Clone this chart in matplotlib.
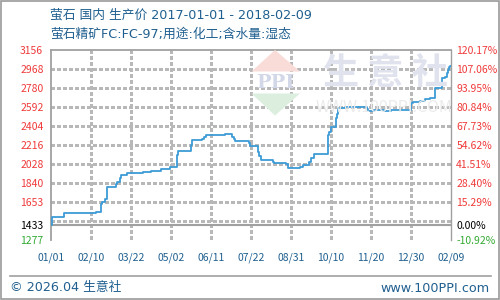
import matplotlib
matplotlib.use("Agg")
import matplotlib.pyplot as plt
from matplotlib.patches import Polygon, Rectangle
from matplotlib.lines import Line2D
from matplotlib.collections import LineCollection

plt.rcParams['font.family'] = ['Noto Sans CJK SC', 'DejaVu Sans']
LATIN_FIRST = ['DejaVu Sans', 'Noto Sans CJK SC']

# ---- data ----
title_line1 = "萤石 国内 生产价 2017-01-01 - 2018-02-09"
title_line2 = "萤石精矿FC:FC-97;用途:化工;含水量:湿态"
footer_left = "© 2026.04 生意社"
footer_right = "www.100PPI.com"

# day offsets from 2017-01-01 and price (step series)
days = [0, 1, 13, 46, 51, 52, 55, 57, 66, 67, 70, 71, 77, 93, 101, 111, 120, 128, 129, 142,
        143, 153, 155, 157, 176, 178, 183, 185, 186, 200, 201, 209, 210, 212, 225, 226, 238, 240, 252, 255,
        261, 263, 266, 280, 281, 283, 288, 289, 290, 297, 319, 320, 327, 337, 344, 364, 366, 373, 378, 383,
        388, 395, 398, 400, 401, 402, 403, 404]
prices = [1433, 1510, 1544, 1554, 1639, 1659, 1682, 1801, 1831, 1857, 1890, 1926, 1940, 1952, 1962, 1982, 2002, 2121, 2163, 2220,
          2266, 2279, 2296, 2315, 2331, 2325, 2302, 2279, 2259, 2236, 2213, 2153, 2114, 2068, 2048, 2038, 2029, 1989, 2005, 2019,
          2048, 2088, 2128, 2318, 2351, 2400, 2484, 2526, 2582, 2598, 2573, 2556, 2566, 2556, 2566, 2638, 2648, 2658, 2672, 2687,
          2780, 2879, 2895, 2929, 2961, 2994, 3004, 3004]

x_labels = ['01/01', '02/10', '03/22', '05/02', '06/11', '07/22', '08/31', '10/10', '11/20', '12/30', '02/09']
total_days = 404

y_labels = ['3156', '2968', '2780', '2592', '2404', '2216', '2028', '1840', '1653', '1433', '1277']
pct_labels = ['120.17%', '107.06%', '93.95%', '80.84%', '67.73%', '54.62%', '41.51%', '28.40%', '15.29%', '0.00%', '-10.92%']
base_value = 1433

# ---- styling ----
W, H = 500, 300
fig = plt.figure(figsize=(W / 100, H / 100), dpi=100)
fig.patch.set_facecolor('white')

def fx(x):
    return x / W

def fy(y):
    return 1 - y / H

tr = fig.transFigure

# watermark (behind everything)
fig.patches.append(Polygon([(fx(275), fy(50)), (fx(251.5), fy(71.5)), (fx(300), fy(71.5))],
                           closed=True, transform=tr, facecolor='#f9dcd8', edgecolor='none', zorder=0))
fig.patches.append(Polygon([(fx(251.5), fy(93.5)), (fx(300), fy(93.5)), (fx(275), fy(115.5))],
                           closed=True, transform=tr, facecolor='#dcefdf', edgecolor='none', zorder=0))
fig.text(fx(275.5), fy(83), 'PPI', transform=tr, ha='center', va='center', fontsize=14,
         family='DejaVu Serif', fontweight='bold', color='#d3d8e8', zorder=0)
fig.text(fx(385), fy(73), '生 意 社', transform=tr, ha='center', va='center', fontsize=26,
         fontweight='bold', color='#e0e3ee', zorder=0)
fig.text(fx(384), fy(107), 'WWW.100PPI.COM', transform=tr, ha='center', va='center', fontsize=11.5,
         color='#ebebeb', zorder=0)

left_px, right_px, top_px, bot_px = 50.7, 450.7, 50.3, 240.3
ax = fig.add_axes([fx(left_px), fy(bot_px), (right_px - left_px) / W, (bot_px - top_px) / H])
ax.patch.set_visible(False)

y_vals = [float(v) for v in y_labels]
y_max, y_min = y_vals[0], y_vals[-1]
ax.set_xlim(0, total_days)
ax.set_ylim(y_min, y_max)

grid_c = '#b8b8b8'
axis_c = '#a0a0a0'
red = '#f03a3a'
green = '#33aa33'
blue_txt = '#1f5f8f'

# dashed gridlines built from short solid pieces (3 px on, 3 px off)
step = (y_max - y_min) / 10
grid_y = [y_min + k * step for k in range(1, 10)]
x_pos = [i * total_days / (len(x_labels) - 1) for i in range(len(x_labels))]
px_x = total_days / (right_px - left_px)      # data units per pixel in x
px_y = (y_max - y_min) / (bot_px - top_px)    # data units per pixel in y
segs = []
for gy in grid_y:
    x0 = 0.0
    while x0 < total_days:
        segs.append([(x0, gy), (min(x0 + 3 * px_x, total_days), gy)])
        x0 += 6 * px_x
for gx in x_pos[1:-1]:
    y0 = y_max
    while y0 > y_min:
        segs.append([(gx, y0), (gx, max(y0 - 3 * px_y, y_min))])
        y0 -= 6 * px_y
ax.add_collection(LineCollection(segs, colors=grid_c, linewidths=1.0, zorder=1, antialiaseds=False))
ax.axhline(base_value, color=axis_c, lw=1.5, zorder=2)

# data line
ax.step(days, prices, where='post', color='#3d9bd6', lw=1.3, zorder=3)

# spines
for s in ['left', 'top']:
    ax.spines[s].set_color(axis_c)
    ax.spines[s].set_linewidth(1.3)
ax.spines['right'].set_color(axis_c)
ax.spines['right'].set_linewidth(1.0)
ax.spines['bottom'].set_visible(False)

# ticks
ax.set_xticks(x_pos)
ax.set_xticklabels(x_labels, fontsize=7.5, color=blue_txt)
ax.tick_params(axis='x', length=0, pad=9)
ax.set_yticks(y_vals)
ax.set_yticklabels(y_labels, fontsize=7.5)
ax.tick_params(axis='y', length=0, pad=22)
for lbl in ax.get_yticklabels():
    lbl.set_horizontalalignment('left')
cols = [red] * 9 + ['black', green]
for lbl, c in zip(ax.get_yticklabels(), cols):
    lbl.set_color(c)

ax2 = ax.twinx()
ax2.patch.set_visible(False)
ax2.set_ylim(y_min, y_max)
ax2.set_yticks(y_vals)
ax2.set_yticklabels(pct_labels, fontsize=7.5)
ax2.tick_params(axis='y', length=0, pad=4)
for lbl, c in zip(ax2.get_yticklabels(), cols):
    lbl.set_color(c)
for s in ax2.spines.values():
    s.set_visible(False)

# titles
fig.text(fx(50), fy(15), title_line1, fontsize=9.2, color=blue_txt, va='center', ha='left', family=LATIN_FIRST)
fig.text(fx(50), fy(34), title_line2, fontsize=9.2, color=blue_txt, va='center', ha='left', family=LATIN_FIRST)

# footer
fig.add_artist(Line2D([fx(10), fx(491)], [fy(276), fy(276)], transform=tr, color=axis_c, lw=1.2))
fig.text(fx(10), fy(288), footer_left, fontsize=9.2, color=blue_txt, va='center', ha='left', family=LATIN_FIRST)
fig.text(fx(490), fy(288), footer_right, fontsize=9.2, color=blue_txt, va='center', ha='right', family=LATIN_FIRST)

# outer frame
fig.patches.append(Rectangle((0.001, 0.002), 0.997, 0.996, transform=tr, fill=False,
                             edgecolor='#9a9a9a', lw=1.2, zorder=5))

fig.savefig('out.png', dpi=100)
